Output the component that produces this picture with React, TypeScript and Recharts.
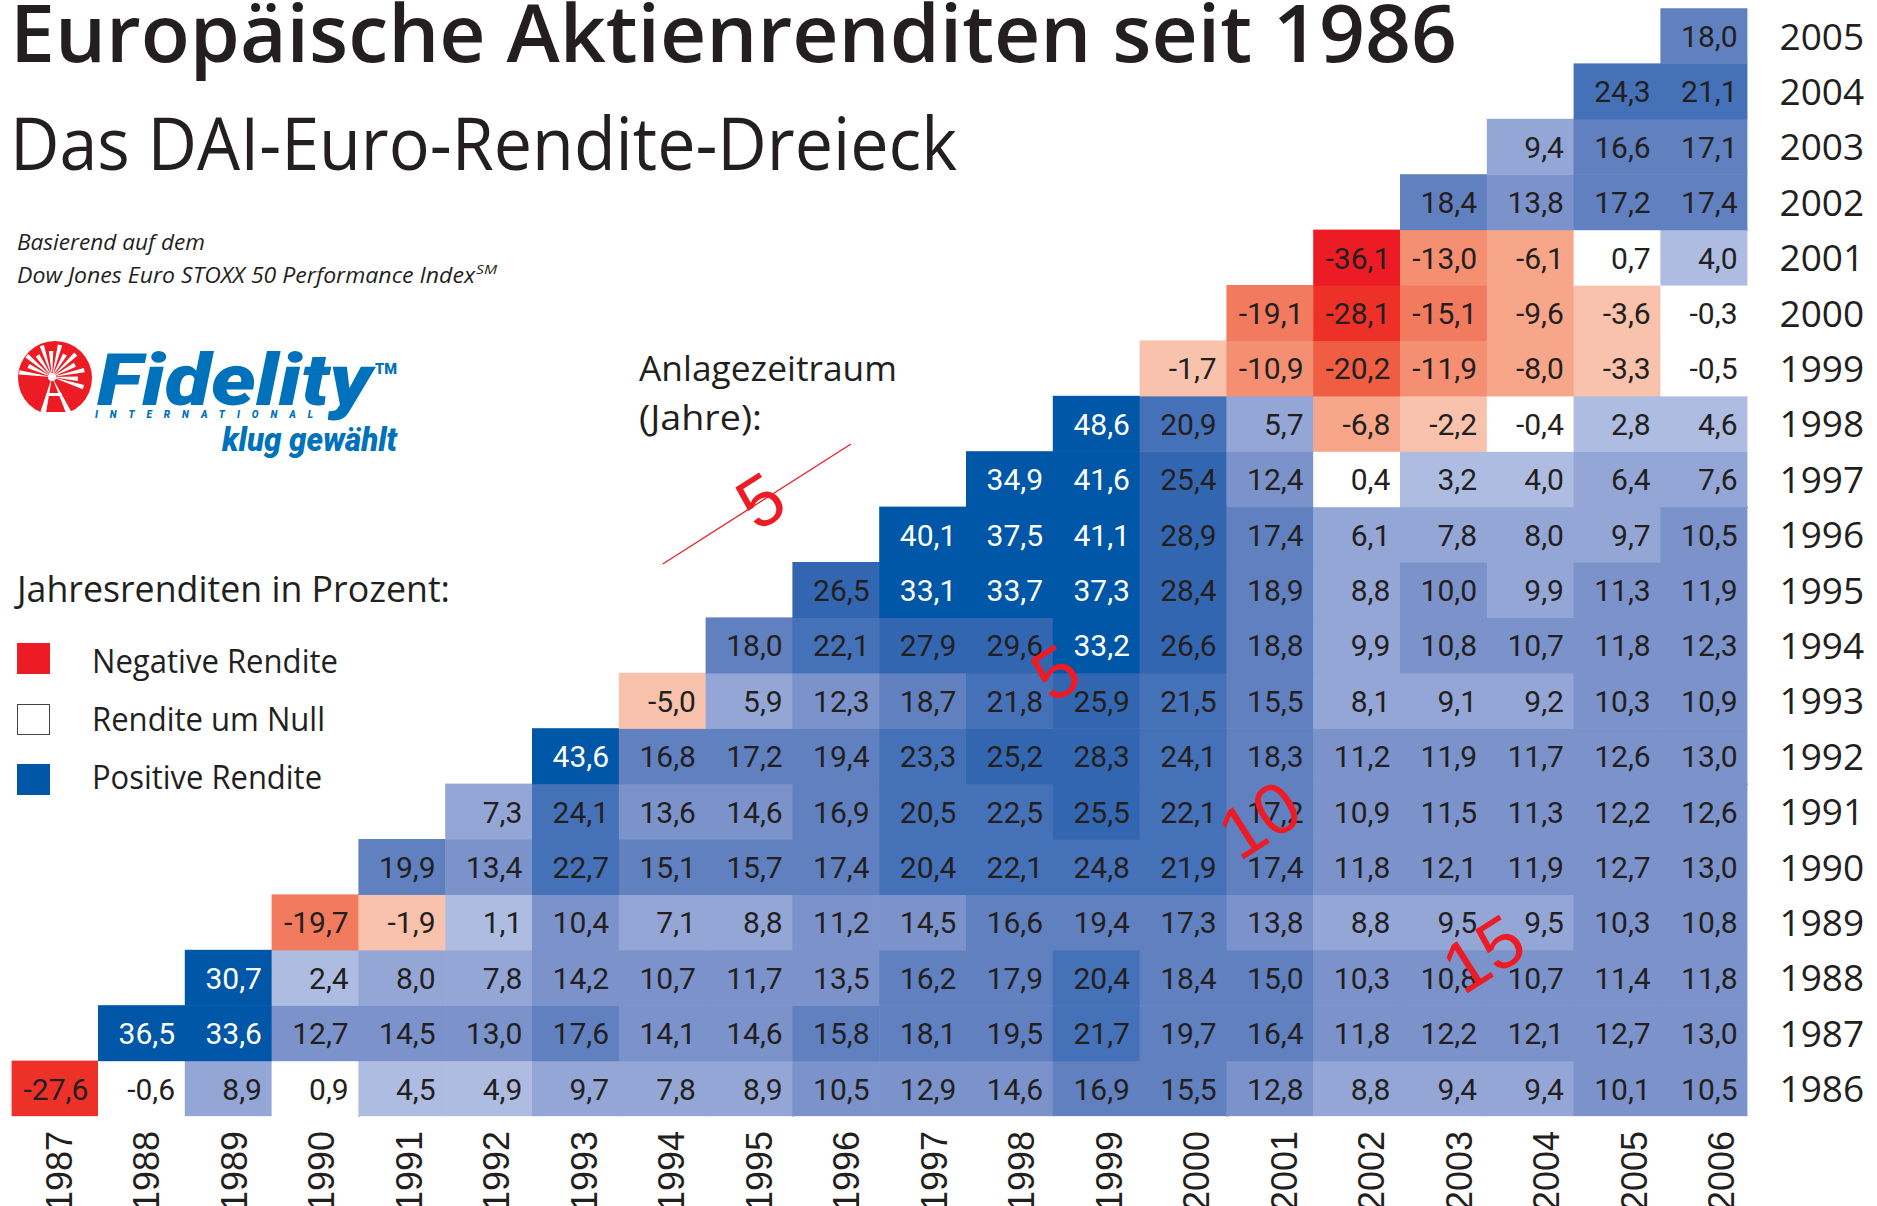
import React from 'react';
import { ComposedChart, XAxis, YAxis, Scatter, ReferenceLine, ReferenceDot } from 'recharts';

// ---------- data ----------
const endYears = [1987, 1988, 1989, 1990, 1991, 1992, 1993, 1994, 1995, 1996, 1997, 1998, 1999, 2000, 2001, 2002, 2003, 2004, 2005, 2006];
const startYears = [1986, 1987, 1988, 1989, 1990, 1991, 1992, 1993, 1994, 1995, 1996, 1997, 1998, 1999, 2000, 2001, 2002, 2003, 2004, 2005];

// annualised returns (%) from start year, for end years start+1 ... 2006
const from1986 = [-27.6, -0.6, 8.9, 0.9, 4.5, 4.9, 9.7, 7.8, 8.9, 10.5, 12.9, 14.6, 16.9, 15.5, 12.8, 8.8, 9.4, 9.4, 10.1, 10.5];
const from1987 = [36.5, 33.6, 12.7, 14.5, 13.0, 17.6, 14.1, 14.6, 15.8, 18.1, 19.5, 21.7, 19.7, 16.4, 11.8, 12.2, 12.1, 12.7, 13.0];
const from1988 = [30.7, 2.4, 8.0, 7.8, 14.2, 10.7, 11.7, 13.5, 16.2, 17.9, 20.4, 18.4, 15.0, 10.3, 10.8, 10.7, 11.4, 11.8];
const from1989 = [-19.7, -1.9, 1.1, 10.4, 7.1, 8.8, 11.2, 14.5, 16.6, 19.4, 17.3, 13.8, 8.8, 9.5, 9.5, 10.3, 10.8];
const from1990 = [19.9, 13.4, 22.7, 15.1, 15.7, 17.4, 20.4, 22.1, 24.8, 21.9, 17.4, 11.8, 12.1, 11.9, 12.7, 13.0];
const from1991 = [7.3, 24.1, 13.6, 14.6, 16.9, 20.5, 22.5, 25.5, 22.1, 17.2, 10.9, 11.5, 11.3, 12.2, 12.6];
const from1992 = [43.6, 16.8, 17.2, 19.4, 23.3, 25.2, 28.3, 24.1, 18.3, 11.2, 11.9, 11.7, 12.6, 13.0];
const from1993 = [-5.0, 5.9, 12.3, 18.7, 21.8, 25.9, 21.5, 15.5, 8.1, 9.1, 9.2, 10.3, 10.9];
const from1994 = [18.0, 22.1, 27.9, 29.6, 33.2, 26.6, 18.8, 9.9, 10.8, 10.7, 11.8, 12.3];
const from1995 = [26.5, 33.1, 33.7, 37.3, 28.4, 18.9, 8.8, 10.0, 9.9, 11.3, 11.9];
const from1996 = [40.1, 37.5, 41.1, 28.9, 17.4, 6.1, 7.8, 8.0, 9.7, 10.5];
const from1997 = [34.9, 41.6, 25.4, 12.4, 0.4, 3.2, 4.0, 6.4, 7.6];
const from1998 = [48.6, 20.9, 5.7, -6.8, -2.2, -0.4, 2.8, 4.6];
const from1999 = [-1.7, -10.9, -20.2, -11.9, -8.0, -3.3, -0.5];
const from2000 = [-19.1, -28.1, -15.1, -9.6, -3.6, -0.3];
const from2001 = [-36.1, -13.0, -6.1, 0.7, 4.0];
const from2002 = [18.4, 13.8, 17.2, 17.4];
const from2003 = [9.4, 16.6, 17.1];
const from2004 = [24.3, 21.1];
const from2005 = [18.0];

const returnsByStart = [from1986, from1987, from1988, from1989, from1990, from1991, from1992, from1993, from1994, from1995,
  from1996, from1997, from1998, from1999, from2000, from2001, from2002, from2003, from2004, from2005];

// investment-period guide lines and where their labels sit (start year along the line)
const periods = [5, 10, 15];
const periodLabelStart = [1993.52, 1990.87, 1988.45];

const cells = startYears.flatMap((s, r) => returnsByStart[r].map((v, i) => ({ x: s + 1 + i, y: s, v })));

// ---------- layout ----------
const W = 1877;
const H = 1206;
const PLOT_LEFT = 11.5;
const PLOT_TOP = 8.3;
const PLOT_W = 1736;
const PLOT_H = 1108;
const CELL_W = PLOT_W / endYears.length;
const CELL_H = PLOT_H / startYears.length;
const ANGLE = (Math.atan(CELL_H / CELL_W) * 180) / Math.PI;
const INK = '#231F20';
const RED = '#ED1C24';
const SANS = '"Open Sans", "Noto Sans", sans-serif';
const LABEL_FONT = 72;

function cellColor(v: number): string {
  if (v >= 30) return '#0057A7';
  if (v >= 25) return '#3366B0';
  if (v >= 20) return '#4571B8';
  if (v >= 15) return '#6080C0';
  if (v >= 10) return '#7B92CA';
  if (v >= 5) return '#93A6D6';
  if (v >= 1) return '#AEBCE1';
  if (v > -1) return '#FFFFFF';
  if (v >= -5) return '#F9C2AD';
  if (v > -10) return '#F7A68A';
  if (v > -15) return '#F48F72';
  if (v > -20) return '#F27A5E';
  if (v > -25) return '#EF5E43';
  if (v > -30) return '#EE3128';
  return '#ED1C24';
}

const fmt = (v: number) => v.toFixed(1).replace('.', ',');

const CellShape = (props: any) => {
  const { cx, cy, payload } = props;
  return (
    <rect x={cx - CELL_W / 2 - 0.3} y={cy - CELL_H / 2 - 0.3} width={CELL_W + 0.6} height={CELL_H + 0.6}
      fill={cellColor(payload.v)} />
  );
};

const CellLabel = (props: any) => {
  const { cx, cy, payload } = props;
  return (
    <text x={cx + CELL_W / 2 - 10} y={cy + 11} textAnchor="end" fontFamily="Roboto, sans-serif" fontSize={30}
      fill={payload.v >= 30 ? '#FFFFFF' : INK}>
      {fmt(payload.v)}
    </text>
  );
};

const RowTick = (props: any) => {
  const { y, payload } = props;
  return (
    <text x={PLOT_LEFT + PLOT_W + 32} y={y + 13.5} fontFamily={SANS} fontSize={37} fill={INK}>
      {payload.value}
    </text>
  );
};

const ColTick = (props: any) => {
  const { x, payload } = props;
  const i = endYears.indexOf(payload.value);
  const bx = x + 4 + i * 0.7 + 13;
  const by = 1131;
  return (
    <text x={bx} y={by} transform={`rotate(-90, ${bx}, ${by})`} textAnchor="end"
      fontFamily='"Liberation Sans", Arial, sans-serif' fontSize={36} fill={INK}>
      {payload.value}
    </text>
  );
};

const PeriodLabel = (text: string) => (props: any) => {
  const { cx, cy } = props;
  return (
    <text x={cx} y={cy + LABEL_FONT * 0.36} transform={`rotate(${-ANGLE}, ${cx}, ${cy})`} textAnchor="middle"
      fontFamily='"Liberation Sans", Arial, sans-serif' fontSize={LABEL_FONT} fill={RED}>
      {text}
    </text>
  );
};

const Logo = () => {
  const cx = 52, cy = 377;
  const rays = [-172, -155, -140, -124, -108, -92, -76, -60, -44, -28, -12, 4, 18];
  return (
    <g>
      <clipPath id="logoClip"><rect x={10} y={335} width={90} height={77} /></clipPath>
      <circle cx={55} cy={378} r={37} fill={RED} clipPath="url(#logoClip)" />
      {rays.map((a, k) => {
        const r = (a * Math.PI) / 180;
        const len = k % 2 === 0 ? 33 : 26;
        const ex = cx + len * Math.cos(r), ey = cy + len * Math.sin(r);
        const px = -Math.sin(r) * 2.2, py = Math.cos(r) * 2.2;
        return <polygon key={k} points={`${cx},${cy} ${ex + px},${ey + py} ${ex - px},${ey - py}`} fill="#fff" />;
      })}
      <polygon points={`${cx},${cy} 40,413 46,413`} fill="#fff" />
      <polygon points={`${cx},${cy} 66,413 72,413`} fill="#fff" />
      <polygon points={`${cx - 4},${cy + 16} ${cx + 10},${cy + 16} ${cx + 8},${cy + 19} ${cx - 6},${cy + 19}`} fill="#fff" />
      <circle cx={cx} cy={cy} r={4} fill="#fff" />
      <text x={97} y={405} fontFamily="Roboto, sans-serif" fontWeight={900} fontStyle="italic" fontSize={72}
        fill="#0072BC" textLength={275} lengthAdjust="spacingAndGlyphs">Fidelity</text>
      <text x={375} y={374} fontFamily="Roboto, sans-serif" fontWeight={900} fontSize={14}
        fill="#0072BC" textLength={22} lengthAdjust="spacingAndGlyphs">TM</text>
      <text x={95} y={418} fontFamily="Roboto, sans-serif" fontWeight={900} fontStyle="italic" fontSize={10}
        fill="#0072BC" textLength={218} lengthAdjust="spacing">INTERNATIONAL</text>
      <text x={222} y={450.5} fontFamily="Roboto, sans-serif" fontWeight={900} fontStyle="italic" fontSize={34}
        fill="#0072BC" textLength={175} lengthAdjust="spacingAndGlyphs">klug gewählt</text>
    </g>
  );
};

const Decorations = () => (
  <svg width={W} height={H} style={{ position: 'absolute', left: 0, top: 0, pointerEvents: 'none' }}>
    <text x={10} y={62} fontFamily={SANS} fontWeight={600} fontSize={80} fill={INK}
      textLength={1447} lengthAdjust="spacingAndGlyphs">Europäische Aktienrenditen seit 1986</text>
    <text x={10} y={170} fontFamily={SANS} fontWeight={400} fontSize={74} fill={INK}
      textLength={947} lengthAdjust="spacingAndGlyphs">Das DAI-Euro-Rendite-Dreieck</text>
    <text x={17} y={250} fontFamily={SANS} fontStyle="italic" fontSize={22} fill={INK}
      textLength={188} lengthAdjust="spacingAndGlyphs">Basierend auf dem</text>
    <text x={17} y={283} fontFamily={SANS} fontStyle="italic" fontSize={22} fill={INK}
      textLength={458} lengthAdjust="spacingAndGlyphs">Dow Jones Euro STOXX 50 Performance Index</text>
    <text x={476} y={274} fontFamily={SANS} fontStyle="italic" fontSize={13} fill={INK}
      textLength={21} lengthAdjust="spacingAndGlyphs">SM</text>
    <Logo />
    <text x={17} y={602} fontFamily={SANS} fontSize={36} fill={INK}
      textLength={433} lengthAdjust="spacingAndGlyphs">Jahresrenditen in Prozent:</text>
    <rect x={17} y={643} width={33} height={31} fill={RED} />
    <rect x={17.5} y={704.5} width={32} height={30} fill="#fff" stroke="#444" strokeWidth={1} />
    <rect x={17} y={764} width={33} height={31} fill="#0057A7" />
    <text x={92} y={673} fontFamily={SANS} fontSize={32} fill={INK}
      textLength={246} lengthAdjust="spacingAndGlyphs">Negative Rendite</text>
    <text x={92} y={731} fontFamily={SANS} fontSize={32} fill={INK}
      textLength={233} lengthAdjust="spacingAndGlyphs">Rendite um Null</text>
    <text x={92} y={789} fontFamily={SANS} fontSize={32} fill={INK}
      textLength={230} lengthAdjust="spacingAndGlyphs">Positive Rendite</text>
    <text x={639} y={381} fontFamily={SANS} fontSize={35} fill={INK}
      textLength={258} lengthAdjust="spacingAndGlyphs">Anlagezeitraum</text>
    <text x={639} y={430} fontFamily={SANS} fontSize={35} fill={INK}
      textLength={123} lengthAdjust="spacingAndGlyphs">(Jahre):</text>
    <line x1={662.7} y1={564} x2={851} y2={444} stroke={RED} strokeWidth={1.3} />
    <text x={760} y={500 + LABEL_FONT * 0.36} transform={`rotate(${-ANGLE}, 760, 500)`} textAnchor="middle"
      fontFamily='"Liberation Sans", Arial, sans-serif' fontSize={LABEL_FONT} fill={RED}>5</text>
  </svg>
);

export default function App() {
  return (
    <div style={{ position: 'absolute', left: 0, top: 0, width: W, height: H, background: '#fff', overflow: 'hidden' }}>
      <ComposedChart width={W} height={H} data={cells}
        margin={{ top: PLOT_TOP, left: PLOT_LEFT, right: 0, bottom: 0 }}>
        <XAxis type="number" dataKey="x" domain={[1986.5, 2006.5]} ticks={endYears} interval={0}
          axisLine={false} tickLine={false} height={H - PLOT_TOP - PLOT_H} tick={<ColTick />} allowDataOverflow />
        <YAxis type="number" dataKey="y" orientation="right" domain={[1985.5, 2005.5]} ticks={startYears} interval={0}
          axisLine={false} tickLine={false} width={W - PLOT_LEFT - PLOT_W} tick={<RowTick />} allowDataOverflow />
        <Scatter data={cells} dataKey="v" shape={<CellShape />} isAnimationActive={false} />
        <Scatter data={cells} dataKey="v" shape={<CellLabel />} isAnimationActive={false} />
        {periods.map((p) => (
          <ReferenceLine key={`l${p}`} segment={[{ x: 1985.5 + p, y: 1985.5 }, { x: 2006.5, y: 2006.5 - p }]}
            stroke={RED} strokeWidth={1.3} ifOverflow="visible" />
        ))}
        {periods.map((p, i) => (
          <ReferenceDot key={`d${p}`} x={periodLabelStart[i] + p} y={periodLabelStart[i]} r={0}
            ifOverflow="visible" shape={PeriodLabel(String(p))} />
        ))}
      </ComposedChart>
      <Decorations />
    </div>
  );
}
